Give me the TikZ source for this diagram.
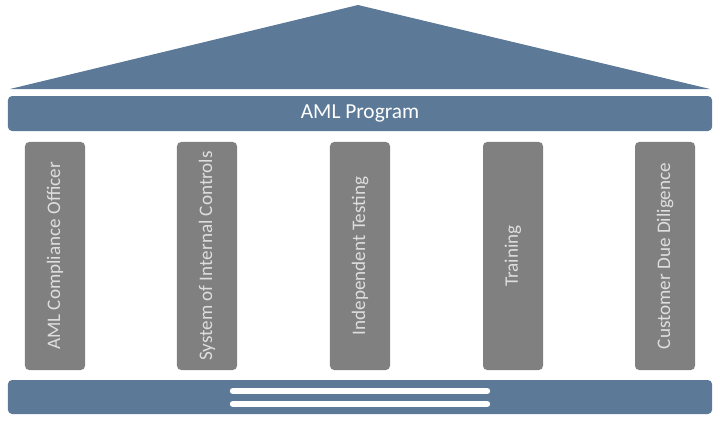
\documentclass[tikz,border=0pt]{standalone}
\usepackage{fontspec}
\setmainfont{Carlito}
\usetikzlibrary{positioning, calc}
\definecolor{amlblue}{RGB}{92, 121, 151}
\definecolor{pillargray}{RGB}{128, 128, 128}
\definecolor{pillartext}{RGB}{222, 222, 222}

\begin{document}
\begin{tikzpicture}[
        x=0.025cm, y=-0.025cm,
        beam/.style={rectangle, fill=amlblue, rounded corners=3pt, minimum width=17.6cm, inner sep=0pt},
        pillar/.style={rectangle, fill=pillargray, rounded corners=3pt, rotate=90, minimum width=5.7cm, minimum height=1.5cm, inner sep=0pt, text=pillartext, font=\fontsize{13.6}{15}\selectfont},
        stripe/.style={white, line width=0.16cm, line cap=round}
    ]
        \useasboundingbox (0,0) rectangle (720,422);

        % roof
        \fill[amlblue] (10,89) -- (358,5) -- (710,89) -- cycle;

        \node[beam, minimum height=0.875cm, text=white, font=\fontsize{15.2}{17}\selectfont] (prog) at (360,113.5) {AML Program};

        \node[pillar] (p1) at (55,256) {AML Compliance Officer};
        \node[pillar] (p2) at (207,256) {System of Internal Controls};
        \node[pillar] (p3) at (360,256) {Independent Testing};
        \node[pillar] (p4) at (513,256) {Training};
        \node[pillar] (p5) at (665,256) {Customer Due Diligence};

        \node[beam, minimum height=0.85cm] (base) at (360,397) {};

        \draw[stripe] (233,391) -- (487,391);
        \draw[stripe] (233,404) -- (487,404);
    \end{tikzpicture}
\end{document}
